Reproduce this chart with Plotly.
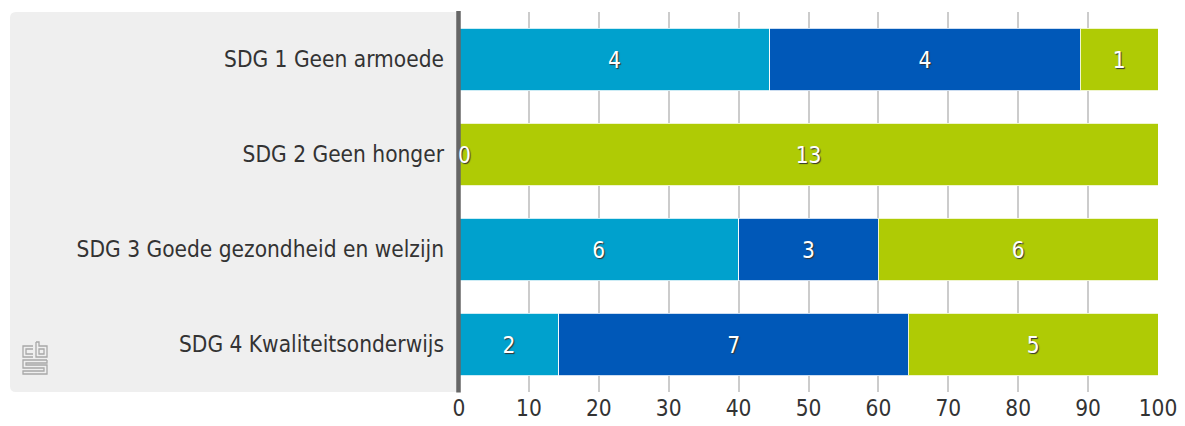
import plotly.graph_objects as go

categories = ["SDG 1 Geen armoede", "SDG 2 Geen honger",
              "SDG 3 Goede gezondheid en welzijn", "SDG 4 Kwaliteitsonderwijs"]
series_names = ["Reeks 1", "Reeks 2", "Reeks 3"]
values_a = [4, 0, 6, 2]
values_b = [4, 0, 3, 7]
values_c = [1, 13, 6, 5]
colors = ["#00A1CD", "#0058B8", "#AFCB05"]
x_ticks = [0, 10, 20, 30, 40, 50, 60, 70, 80, 90, 100]

W, H = 1185, 426
ML, MR, MT, MB = 459, 27, 12, 34
PW, PH = W - ML - MR, H - MT - MB
FONT = "DejaVu Sans Condensed, Roboto, sans-serif"
FS = 22.5
SHADOW = "1px 1px 1px #333"

def px2x(px):
    return (px - ML) / PW

def px2y(py):
    return 1 - (py - MT) / PH

fig = go.Figure()
all_series = [values_a, values_b, values_c]
for name, vals, col in zip(series_names, all_series, colors):
    fig.add_trace(go.Bar(
        y=categories, x=vals, orientation="h", name=name,
        marker=dict(color=col, line=dict(color="rgba(255,255,255,0.8)", width=1)),
        text=[str(v) if v > 0 else "" for v in vals],
        textposition="inside", insidetextanchor="middle",
        textfont=dict(family=FONT, size=FS, color="white", shadow=SHADOW),
        hoverinfo="skip", width=0.66,
    ))

annotations = []
for i, cat in enumerate(categories):
    if values_a[i] == 0:
        annotations.append(dict(x=0, y=cat, xref="x", yref="y", text="0",
                                showarrow=False, xanchor="left", xshift=-3,
                                font=dict(family=FONT, size=FS, color="white", shadow=SHADOW)))

# gray panel with rounded corners (pixel-based)
x0, x1, y0, y1, r = 10, 457, 12, 392, 6
def P(px, py):
    return f"{px2x(px):.5f},{px2y(py):.5f}"
panel = (f"M {P(x0+r,y0)} L {P(x1,y0)} L {P(x1,y1)} L {P(x0+r,y1)} "
         f"Q {P(x0,y1)} {P(x0,y1-r)} L {P(x0,y0+r)} Q {P(x0,y0)} {P(x0+r,y0)} Z")
shapes = [dict(type="path", xref="paper", yref="paper", path=panel,
               fillcolor="#EFEFEF", line=dict(width=0), layer="below")]
# axis line at 0
shapes.append(dict(type="line", xref="paper", yref="paper", x0=px2x(458.5), x1=px2x(458.5),
                   y0=px2y(392.5), y1=px2y(11),
                   line=dict(color="#666666", width=4.5), layer="above"))

# CBS logo (approximate outline strokes)
lc = "#A8A8A8"
def rect(ax, ay, bx, by):
    return dict(type="rect", xref="paper", yref="paper",
                x0=px2x(ax), x1=px2x(bx), y0=px2y(ay), y1=px2y(by),
                line=dict(color=lc, width=1.3), fillcolor="rgba(0,0,0,0)")
def path(pts):
    d = "M " + " L ".join(P(a, b) for a, b in pts)
    return dict(type="path", xref="paper", yref="paper", path=d,
                line=dict(color=lc, width=1.3))
# c
shapes.append(path([(33, 346), (23, 346), (23, 357), (33, 357)]))
shapes.append(path([(33, 349), (26, 349), (26, 354), (33, 354)]))
# b
shapes.append(path([(36, 342), (36, 357), (47, 357), (47, 346), (39, 346), (39, 342), (36, 342)]))
shapes.append(rect(39, 349, 44, 354))
# S
shapes.append(path([(47, 360), (23, 360), (23, 368), (44, 368), (44, 371), (23, 371),
                    (23, 374), (47, 374), (47, 365), (26, 365), (26, 363), (47, 363), (47, 360)]))

fig.update_layout(
    width=W, height=H, barmode="stack", barnorm="percent",
    margin=dict(l=ML, r=MR, t=MT, b=MB, pad=0, autoexpand=False),
    paper_bgcolor="white", plot_bgcolor="rgba(0,0,0,0)",
    showlegend=False, shapes=shapes, annotations=annotations,
    font=dict(family=FONT, size=FS, color="#333333"),
    xaxis=dict(range=[0, 100], tickvals=x_ticks, showgrid=True, gridcolor="#CCCCCC",
               gridwidth=1.5, zeroline=False, showline=False, ticks="", automargin=False,
               tickfont=dict(family=FONT, size=FS, color="#333333"), fixedrange=True),
    yaxis=dict(categoryorder="array", categoryarray=categories, autorange="reversed",
               showgrid=False, zeroline=False, showline=False, ticks="", automargin=False,
               ticklabelstandoff=14,
               tickfont=dict(family=FONT, size=FS, color="#333333"), fixedrange=True),
)

fig.write_html("out.html", config={"displayModeBar": False},
               post_script="document.body.style.margin='0px';document.body.style.overflow='hidden';")
